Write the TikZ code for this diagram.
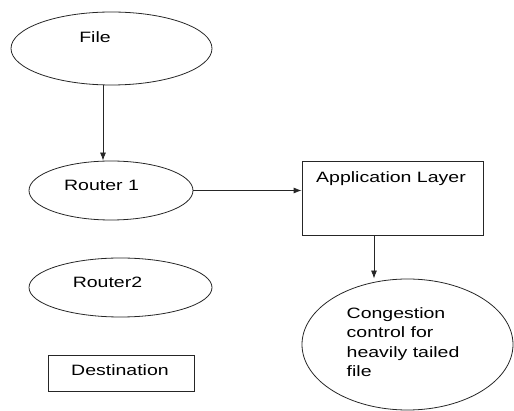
\documentclass[tikz,border=0pt]{standalone}
\usepackage{fontspec}
\setmainfont{Liberation Sans}[FakeStretch=1.3]
\usetikzlibrary{shapes.geometric,arrows.meta}
\begin{document}
\begin{tikzpicture}[x=1pt,y=-1pt,
  shapeline/.style={draw=black!85,line width=0.8pt,inner sep=0pt},
  oval/.style={shapeline,ellipse},
  boxnode/.style={shapeline,rectangle},
  txt/.style={font=\fontsize{15}{19.5}\selectfont,inner sep=0pt},
  arr/.style={draw=black!85,line width=0.8pt,-{Latex[length=8pt,width=6pt]}}]
\useasboundingbox (0,0) rectangle (514,411);
% shapes
\node[oval,minimum width=201,minimum height=73] (file) at (111.5,48.5) {};
\node[oval,minimum width=164,minimum height=59] (r1) at (111,190.5) {};
\node[oval,minimum width=183,minimum height=59] (r2) at (120.5,287.5) {};
\node[boxnode,minimum width=146,minimum height=36] (dest) at (121,373) {};
\node[boxnode,minimum width=181,minimum height=74] (app) at (392.5,198) {};
\node[oval,minimum width=211,minimum height=131] (cong) at (407.5,344.5) {};
% texts
\node[txt,anchor=base] (fileT) at (95,43) {File};
\node[txt,anchor=base] (r1T) at (101.5,190.5) {Router 1};
\node[txt,anchor=base] (r2T) at (107.5,288) {Router2};
\node[txt,anchor=base] (destT) at (120,376) {Destination};
\node[txt,anchor=base] (appT) at (391,183) {Application Layer};
\node[txt,anchor=base west,align=left] (congT) at (346.5,377) {Congestion\\control for\\heavily tailed\\file};
% connectors
\draw[arr] ([xshift=-8.5pt]file.south) -- ([xshift=-8pt]r1.north);
\draw[arr] (r1.east) -- (r1.east -| app.west);
\draw[arr] ([xshift=-18.5pt]app.south) -- ([xshift=-18.5pt]app.south |- cong.north);
\end{tikzpicture}
\end{document}
